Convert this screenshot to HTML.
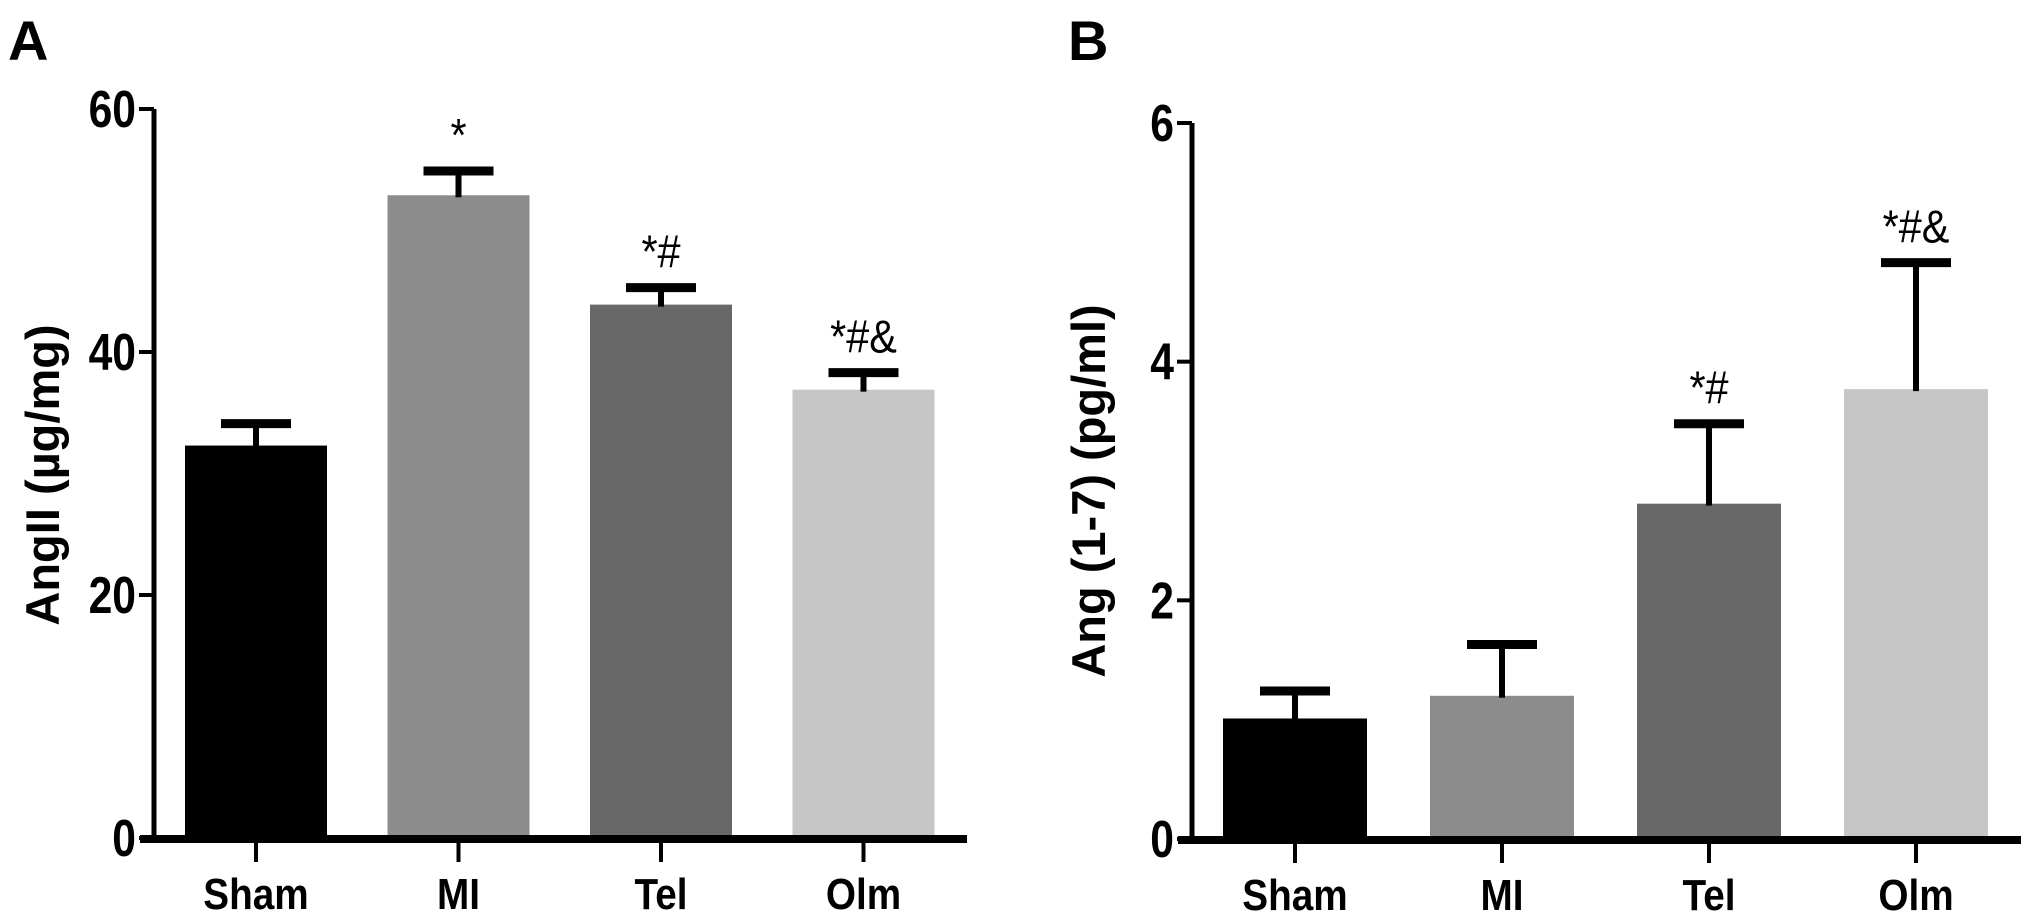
<!DOCTYPE html>
<html><head><meta charset="utf-8"><style>
html,body{margin:0;padding:0;background:#fff;}
svg{display:block;}
text{font-family:"Liberation Sans",Arial,sans-serif;}
</style></head><body>
<svg id="chart" width="2031" height="917" viewBox="0 0 2031 917" xmlns="http://www.w3.org/2000/svg">
<text x="8" y="60" font-size="56" font-weight="bold">A</text>
<text x="1068" y="60" font-size="56" font-weight="bold">B</text>
<g id="panelA"></g>
<g id="panelB"></g>
</svg>
<script>
const categories = ["Sham", "MI", "Tel", "Olm"];
const angIIValues = [32.3, 52.9, 43.9, 36.9];
const angIIErrors = [1.8, 2.0, 1.4, 1.4];
const angIIAnnot = ["", "*", "*#", "*#&"];
const angIITicks = [0, 20, 40, 60];
const ang17Values = [1.01, 1.2, 2.81, 3.77];
const ang17Errors = [0.23, 0.43, 0.67, 1.06];
const ang17Annot = ["", "", "*#", "*#&"];
const ang17Ticks = [0, 2, 4, 6];
const colors = ["#000000", "#8c8c8c", "#686868", "#c6c6c6"];
const NS = "http://www.w3.org/2000/svg";

function mk(parent, tag, attrs) {
  const e = document.createElementNS(NS, tag);
  for (const k in attrs) e.setAttribute(k, attrs[k]);
  parent.appendChild(e);
  return e;
}

function drawPanel(g, cfg, values, errors, annots, ticks) {
  const y = v => cfg.y0 - (v - ticks[0]) / (ticks[ticks.length-1] - ticks[0]) * (cfg.y0 - cfg.yTop);
  const xc = i => cfg.firstCenter + i * cfg.pitch;
  values.forEach((v, i) => {
    const top = y(v);
    const b = mk(g, "rect", {x: xc(i) - cfg.bw/2, y: top, width: cfg.bw, height: cfg.y0 - top, fill: colors[i]});
    
    
    const capY = y(v + errors[i]);
    const ev = mk(g, "line", {x1: xc(i), x2: xc(i), y1: top + 2, y2: capY, stroke: "#000", "stroke-width": 6});
    
    
    const ec = mk(g, "line", {x1: xc(i) - 35, x2: xc(i) + 35, y1: capY, y2: capY, stroke: "#000", "stroke-width": 9});
    
    
    if (annots[i]) {
      const t = mk(g, "text", {x: 0, y: 0, "font-size": 46, "text-anchor": "middle", transform: `translate(${xc(i)},${capY - 20}) scale(0.9,1)`});
      t.textContent = annots[i];
      
      
    }
    const tk = mk(g, "line", {x1: xc(i), x2: xc(i), y1: cfg.y0, y2: cfg.y0 + 24, stroke: "#000", "stroke-width": 4});
    
    
    const lb = mk(g, "text", {x: 0, y: 0, "font-size": 44, "font-weight": "bold", "text-anchor": "middle", transform: `translate(${xc(i)},${cfg.y0 + 71}) scale(0.88,1)`});
    lb.textContent = categories[i];
    
    
  });
  const ya = mk(g, "line", {x1: cfg.ax, x2: cfg.ax, y1: cfg.yTop, y2: cfg.y0, stroke: "#000", "stroke-width": 5});
  
  
  const xa = mk(g, "line", {x1: cfg.ax - 14, x2: cfg.xEnd, y1: cfg.y0 + 1, y2: cfg.y0 + 1, stroke: "#000", "stroke-width": 8});
  
  
  ticks.forEach(tv => {
    const ty = y(tv);
    const tl = mk(g, "line", {x1: cfg.ax - 15, x2: cfg.ax, y1: ty, y2: ty, stroke: "#000", "stroke-width": 4});
    
    
    const tt = mk(g, "text", {x: 0, y: 0, "font-size": 52, "font-weight": "bold", "text-anchor": "end", transform: `translate(${cfg.ax - 18},${ty + 18}) scale(0.82,1)`});
    tt.textContent = String(tv);
    
    
  });
  const title = mk(g, "text", {x: 0, y: 0, "font-size": 47, "font-weight": "bold", "text-anchor": "middle", transform: `translate(${cfg.titleX},${cfg.titleY}) rotate(-90)`});
  title.textContent = cfg.title;
  
  
}

drawPanel(document.getElementById("panelA"),
  {ax: 154, y0: 838, yTop: 109, firstCenter: 256, pitch: 202.5, bw: 142, xEnd: 967, titleX: 59, titleY: 475, title: "AngII (µg/mg)"},
  angIIValues, angIIErrors, angIIAnnot, angIITicks);
drawPanel(document.getElementById("panelB"),
  {ax: 1192, y0: 839, yTop: 123, firstCenter: 1295, pitch: 207, bw: 144, xEnd: 2021, titleX: 1105, titleY: 491, title: "Ang (1-7) (pg/ml)"},
  ang17Values, ang17Errors, ang17Annot, ang17Ticks);
</script>
</body></html>
